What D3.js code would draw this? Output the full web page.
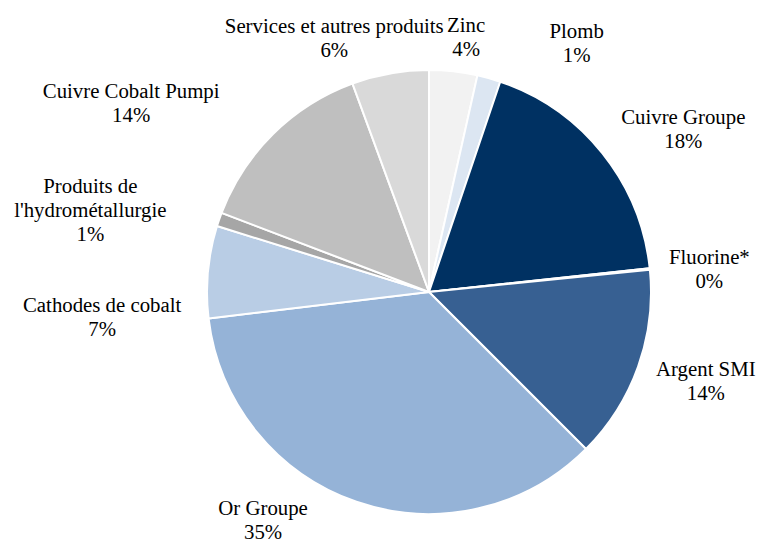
<!DOCTYPE html>
<html>
<head>
<meta charset="utf-8">
<script src="https://cdn.jsdelivr.net/npm/d3@7"></script>
<style>
  body { margin: 0; background: #fff; }
  text { font-family: "Liberation Serif", "Times New Roman", serif; font-size: 20.8px; fill: #000; }
</style>
</head>
<body>
<svg id="chart" width="764" height="544"></svg>
<script>
// slices, clockwise from 12 o'clock
var categories = ['Zinc', 'Plomb', 'Cuivre Groupe', 'Fluorine*', 'Argent SMI', 'Or Groupe',
  'Cathodes de cobalt', "Produits de\nl'hydrométallurgie", 'Cuivre Cobalt Pumpi', 'Services et autres produits'];
var shares = [3.5, 1.7, 18.1, 0.1, 14.1, 35.6, 6.7, 1.0, 13.6, 5.6];
var pctLabels = ['4%', '1%', '18%', '0%', '14%', '35%', '7%', '1%', '14%', '6%'];
var colors = ['#f2f2f2', '#dce6f2', '#003162', '#ffffff', '#376092', '#95b3d7',
  '#b9cde5', '#a6a6a6', '#bfbfbf', '#d9d9d9'];

// label placement tweaks (degrees / px), like manual moves in the source chart
var labelNudge = [2, 15, 6, 1.2, -1.8, 17, -9.6, -5.4, -13, -10.4];
var labelGap = [9, 33, 15, 17, 14, 14, 25, 44, 43, -12];

var svg = d3.select('#chart'),
    cx = 429, cy = 292, r = 222,
    lineH = 24;

var g = svg.append('g').attr('transform', 'translate(' + cx + ',' + cy + ')');

var pie = d3.pie().sort(null).value(function(d) { return d; });
var arcs = pie(shares);
var arc = d3.arc().innerRadius(0).outerRadius(r);

g.selectAll('path.slice')
  .data(arcs)
  .enter().append('path')
  .attr('class', 'slice')
  .attr('d', arc)
  .attr('fill', function(d, i) { return colors[i]; })
  .attr('stroke', '#fff')
  .attr('stroke-width', 2)
  .attr('stroke-linejoin', 'round');

var labels = g.selectAll('g.lbl')
  .data(arcs)
  .enter().append('g')
  .attr('class', 'lbl');

labels.each(function(d, i) {
  var lines = categories[i].split('\n').concat([pctLabels[i]]);
  var t = d3.select(this).append('text').attr('text-anchor', 'middle');
  lines.forEach(function(s, k) {
    t.append('tspan').attr('x', 0).attr('dy', k === 0 ? 0 : lineH).text(s);
  });
  var bb = t.node().getBBox();
  var w = bb.width, h = lines.length * lineH;
  var a = (d.startAngle + d.endAngle) / 2 + labelNudge[i] * Math.PI / 180;
  var s = Math.sin(a), c = Math.cos(a);
  var dist = r + labelGap[i] + (w / 2) * Math.abs(s) + (h / 2) * Math.abs(c);
  var x = s * dist, y = -c * dist;
  // centre the block vertically on (x, y)
  var top = y - h / 2;
  t.attr('transform', 'translate(' + x + ',' + (top + lineH * 0.79) + ')');
});
</script>
</body>
</html>
